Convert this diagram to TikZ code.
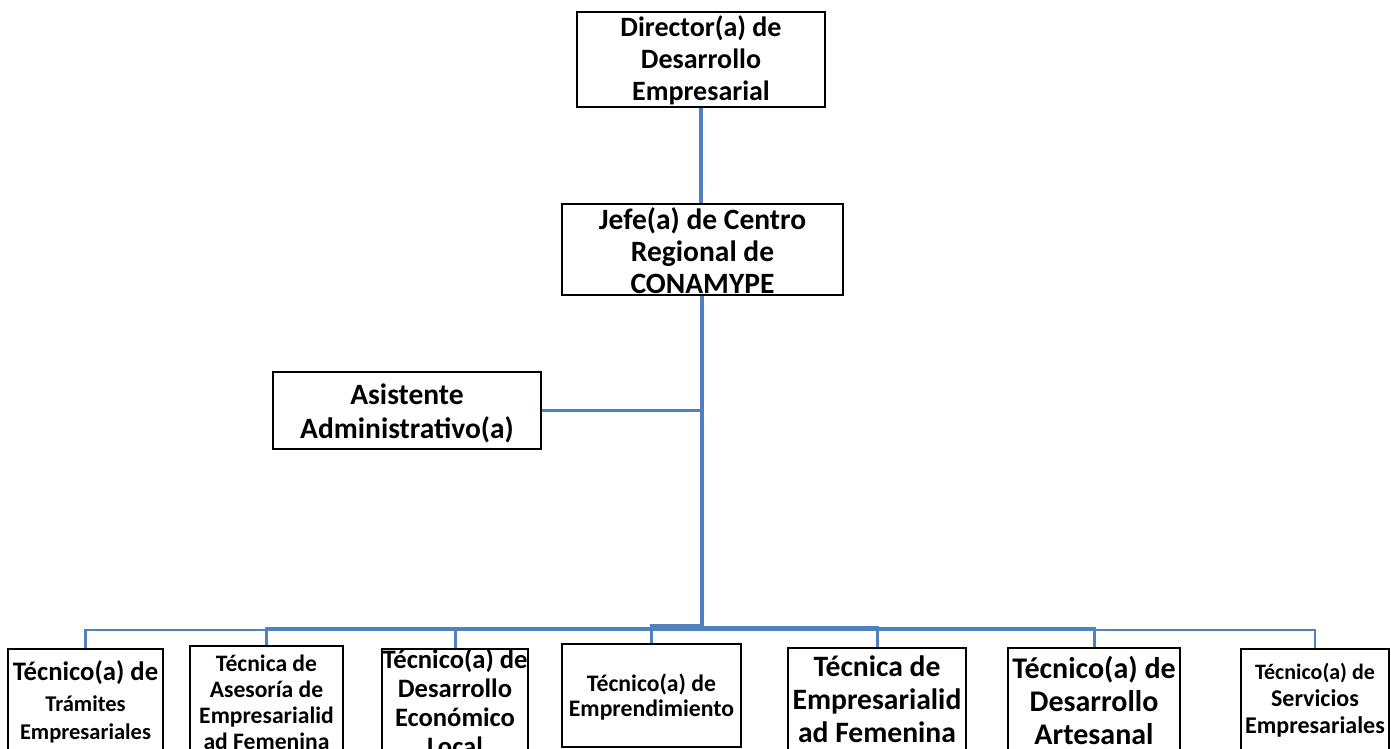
\documentclass[tikz,border=0pt]{standalone}
\usepackage{fontspec}
\setmainfont{Carlito}
\definecolor{conn}{HTML}{4F81BD}
\tikzset{
  box/.style={draw=black, line width=1.8pt, inner sep=0pt, fill=white},
  txt/.style={align=center, inner sep=0pt},
  trunk/.style={draw=conn, line width=4.5pt},
  link/.style={draw=conn, line width=3pt},
  thinlink/.style={draw=conn, line width=2.5pt},
}
\newcommand{\fs}[2]{\fontsize{#1}{#2}\selectfont\bfseries}
\begin{document}
\begin{tikzpicture}[x=1pt,y=-1pt]
\useasboundingbox (0,0) rectangle (1391,749);
% boxes
\node[box, minimum width=248, minimum height=95] (dir) at (701,59.5) {};
\node[box, minimum width=281, minimum height=91] (jefe) at (702.5,249.5) {};
\node[box, minimum width=268, minimum height=77] (asis) at (407,410.5) {};
\node[box, minimum width=155, minimum height=120] (b1) at (85.5,709) {};
\node[box, minimum width=153, minimum height=124] (b2) at (266.5,708) {};
\node[box, minimum width=146, minimum height=121] (b3) at (455,709.5) {};
\node[box, minimum width=179, minimum height=103] (b4) at (651.5,695.5) {};
\node[box, minimum width=178, minimum height=122] (b5) at (877,709) {};
\node[box, minimum width=172, minimum height=122] (b6) at (1094,709) {};
\node[box, minimum width=148, minimum height=121] (b7) at (1315,709.5) {};
% texts
\node[txt, font=\fs{28}{32}] (tdir) at (701,60.5) {Director(a) de\\Desarrollo\\Empresarial};
\node[txt, font=\fs{29.5}{32}] (tjefe) at (702.5,251) {Jefe(a) de Centro\\Regional de\\CONAMYPE};
\node[txt, font=\fs{29.5}{34}] (tasis) at (407,413.5) {Asistente\\Administrativo(a)};
\node[txt, font=\fs{22.5}{28}] (t1) at (85.5,702) {\fs{26.7}{28}Técnico(a) de\\[3pt]Trámites\\Empresariales};
\node[txt, font=\fs{23.6}{26}] (t2) at (266.5,702.5) {Técnica de\\Asesoría de\\Empresarialid\\ad Femenina};
\node[txt, font=\fs{26.6}{29}] (t3) at (455,702) {Técnico(a) de\\Desarrollo\\Económico\\Local};
\node[txt, font=\fs{23.7}{25}] (t4) at (651.5,697) {Técnico(a) de\\Emprendimiento};
\node[txt, font=\fs{29.6}{33}] (t5) at (877,699) {Técnica de\\Empresarialid\\ad Femenina};
\node[txt, font=\fs{30}{33}] (t6) at (1094,700) {Técnico(a) de\\Desarrollo\\Artesanal};
\node[txt, font=\fs{24}{27}] (t7) at (1315,700) {\fs{22}{27}Técnico(a) de\\Servicios\\Empresariales};
% connectors
\coordinate (j) at (702,628);
\draw[trunk] (dir.south) -- (dir.south |- jefe.north);
\draw[trunk] (jefe.south -| j) -- (j);
\draw[thinlink] (asis.east) -- (asis.east -| j);
\draw[thinlink] (j) -- ++(0,2) -| (b1.north);
\draw[link] (j) -| (b2.north);
\draw[link] (j) -| (b3.north);
\draw[link] (j) -- ++(0,-3) -| (b4.north);
\draw[link] (j) -- ++(0,-1) -| (b5.north);
\draw[link] (j) -| (b6.north);
\draw[thinlink] (j) -- ++(0,2) -| (b7.north);
\end{tikzpicture}
\end{document}
